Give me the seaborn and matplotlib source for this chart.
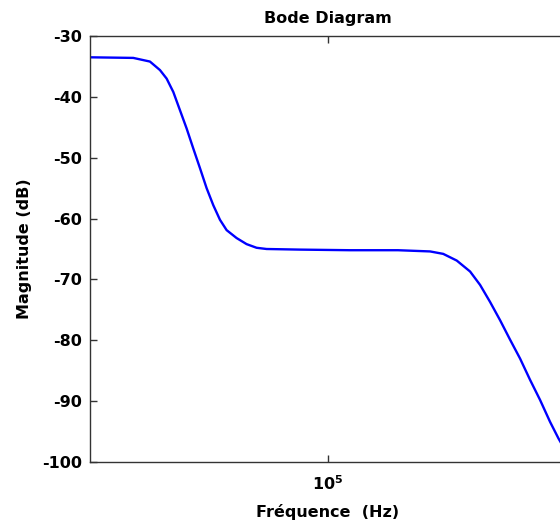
import numpy as np
import pandas as pd
import matplotlib
matplotlib.use("Agg")
import matplotlib.pyplot as plt
import seaborn as sns

freq_hz = [1.0e4, 15200, 17860, 19680, 20990, 22390, 23880, 25470, 27170,
           28970, 30900, 32960, 35160, 37500, 41300, 45500, 50120, 55200,
           76200, 123600, 196800, 268500, 304800, 347500, 395400, 435500,
           479700, 528400, 582100, 641200, 706300, 778000, 857000, 929000,
           1.0e6]
magnitude_db = [-33.5, -33.6, -34.2, -35.6, -37.0, -39.2, -42.2, -45.2, -48.5,
                -51.7, -55.0, -57.8, -60.2, -61.9, -63.2, -64.2, -64.8, -65.0,
                -65.1, -65.2, -65.2, -65.4, -65.8, -66.9, -68.7, -70.9,
                -73.7, -76.7, -79.9, -83.0, -86.5, -89.8, -93.4, -96.1,
                -98.3]
y_ticks = [-100, -90, -80, -70, -60, -50, -40, -30]
x_ticks = [1e5]
x_tick_labels = [r"$\mathbf{10^{5}}$"]

sns.set_style("ticks")
plt.rcParams["font.family"] = ["DejaVu Sans"]
plt.rcParams["mathtext.fontset"] = "custom"
plt.rcParams["mathtext.bf"] = "DejaVu Sans:bold"
plt.rcParams["mathtext.rm"] = "DejaVu Sans"
plt.rcParams["text.color"] = "black"
plt.rcParams["axes.labelcolor"] = "black"
plt.rcParams["xtick.color"] = "black"
plt.rcParams["ytick.color"] = "black"

df = pd.DataFrame({"f": freq_hz, "mag": magnitude_db})

fig = plt.figure(figsize=(5.6, 5.24), dpi=100)
ax = fig.add_axes([90 / 560, 1 - 462 / 524, 476 / 560, 426 / 524])
sns.lineplot(data=df, x="f", y="mag", ax=ax, color="#0000ff", linewidth=1.7)
ax.set_xscale("log")
ax.set_xlim(1e4, 1e6)
ax.set_ylim(-100, -30)
ax.set_xticks(x_ticks)
ax.set_xticklabels(x_tick_labels)
ax.minorticks_off()
ax.set_yticks(y_ticks)
ax.set_yticklabels([str(v) for v in y_ticks])
for sp in ax.spines.values():
    sp.set_visible(True)
    sp.set_color("#333333")
    sp.set_linewidth(1.0)
ax.tick_params(direction="in", length=5, width=1, color="#333333",
               labelcolor="black", top=True, right=False, labelsize=11.5)
ax.tick_params(axis="y", pad=6)
ax.tick_params(axis="x", pad=9)
for lab in ax.get_yticklabels():
    lab.set_fontweight("bold")
ax.set_title("Bode Diagram", fontsize=11.5, fontweight="bold", pad=9,
             color="black")
ax.set_xlabel("Fréquence  (Hz)", fontsize=11.5, fontweight="bold", labelpad=8)
ax.set_ylabel("Magnitude (dB)", fontsize=11.5, fontweight="bold", labelpad=7)
ax.grid(False)
fig.savefig("out.png", dpi=100)
